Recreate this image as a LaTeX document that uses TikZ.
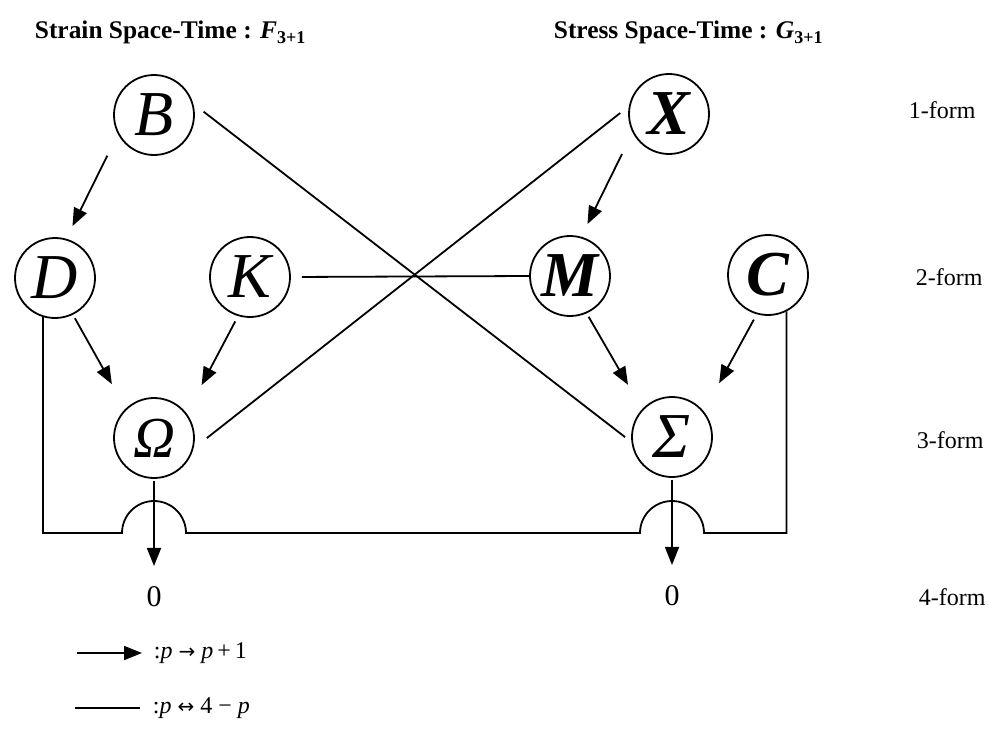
\documentclass[tikz,border=0pt]{standalone}
\usepackage{fontspec}
\setmainfont{Liberation Serif}
\newfontfamily\arrowfont{DejaVu Sans}
\usetikzlibrary{arrows.meta, positioning}

\begin{document}
\begin{tikzpicture}[x=0.5pt, y=-0.5pt, line width=0.9pt,
    form/.style={draw, circle, minimum size=40pt, inner sep=0pt, font=\fontsize{32}{32}\selectfont\itshape},
    arr/.style={-{Triangle[length=9pt, width=7pt]}},
    title/.style={anchor=base west, inner sep=0pt, font=\fontsize{12.7}{14}\selectfont\bfseries},
    deg/.style={anchor=west, inner sep=0pt, font=\fontsize{12}{14}\selectfont},
    zero/.style={inner sep=0pt, font=\fontsize{15}{15}\selectfont},
    key/.style={anchor=west, inner sep=0pt, font=\fontsize{12}{13}\selectfont}]
    \useasboundingbox (0,0) rectangle (989,728);

    % titles
    \node[title] (tF) at (34,38) {Strain Space-Time : \textit{F}\raisebox{-0.5ex}{\fontsize{9}{9}\selectfont 3+1}};
    \node[title] (tG) at (553,38) {Stress Space-Time : \textit{G}\raisebox{-0.5ex}{\fontsize{9}{9}\selectfont 3+1}};

    % forms
    \node[form] (B) at (154,115) {B};
    \node[form] (X) at (669,114) {\bfseries X};
    \node[form] (D) at (55,278) {D};
    \node[form] (K) at (250,277) {K};
    \node[form] (M) at (570,276) {\bfseries M};
    \node[form] (C) at (768,275) {\bfseries C};
    \node[form] (Om) at (154,438) {\fontsize{29}{29}\selectfont Ω};
    \node[form] (Sg) at (672,437) {Σ};
    \node[zero] (zL) at (154,597) {0};
    \node[zero] (zR) at (672,596) {0};

    % degree labels
    \node[deg] (f1) at (908,110) {1-form};
    \node[deg] (f2) at (915,277) {2-form};
    \node[deg] (f3) at (916,440) {3-form};
    \node[deg] (f4) at (918,597) {4-form};

    % p -> p+1
    \draw[arr, shorten <=12pt, shorten >=7pt] (B.208) -- (D.74);
    \draw[arr, shorten <=12pt, shorten >=7pt] (X.207) -- (M.74);
    \draw[arr, shorten <=2pt, shorten >=14pt] (D.296) -- (Om.134);
    \draw[arr, shorten <=2pt, shorten >=14pt] (M.294) -- (Sg.137);
    \draw[arr, shorten <=3pt, shorten >=16pt] (K.253) -- (Om.37);
    \draw[arr, shorten <=3pt, shorten >=16pt] (C.254) -- (Sg.39);
    \draw[arr, shorten <=1pt, shorten >=10pt] (Om.south) -- (zL.north);
    \draw[arr, shorten <=1pt, shorten >=10pt] (Sg.south) -- (zR.north);

    % p <-> 4-p
    \draw[shorten <=6.5pt, shorten >=4pt] (B.16) -- (Sg.187);
    \draw[shorten <=5.5pt, shorten >=8.5pt] (X.169) -- (Om.345);
    \draw[shorten <=5.5pt] (K.east) -- (M.west);
    \coordinate (jL) at (122,533);
    \coordinate (jR) at (640,533);
    \draw (D.253) |- (jL) arc[start angle=180, end angle=360, radius=32]
        -- (jR) arc[start angle=180, end angle=360, radius=32] -| (C.297);

    % key
    \coordinate (a1) at (77,653);
    \coordinate (a2) at (142,653);
    \draw[arr] (a1) -- (a2);
    \node[key] (k1) at (153,653) {:\textit{p} {\arrowfont\fontsize{10}{10}\selectfont →} \textit{p}\,+\,1};
    \coordinate (b1) at (75,708);
    \coordinate (b2) at (140,708);
    \draw[line width=0.7pt] (b1) -- (b2);
    \node[key] (k2) at (152,708) {:\textit{p} {\arrowfont\fontsize{10}{10}\selectfont ↔} 4 − \textit{p}};
\end{tikzpicture}
\end{document}
